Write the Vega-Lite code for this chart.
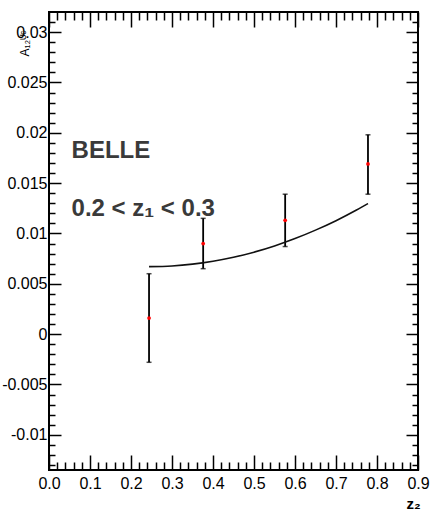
{
  "$schema": "https://vega.github.io/schema/vega-lite/v6.json",
  "width": 369,
  "height": 458,
  "autosize": {"type": "none"},
  "padding": {"left": 49, "top": 12, "right": 16, "bottom": 42},
  "background": "white",
  "config": {
    "view": {"stroke": "black", "strokeWidth": 2},
    "font": "Liberation Sans",
    "axis": {"grid": false, "domain": false, "tickColor": "black", "tickWidth": 1.5, "labelColor": "black", "titleColor": "black", "labelFont": "Liberation Sans", "titleFont": "Liberation Sans"}
  },
  "datasets": {
    "pts": [
      {"z": 0.244, "a": 0.0016, "lo": -0.0028, "hi": 0.0060},
      {"z": 0.376, "a": 0.0090, "lo": 0.0065, "hi": 0.0115},
      {"z": 0.576, "a": 0.0113, "lo": 0.0087, "hi": 0.0139},
      {"z": 0.778, "a": 0.0169, "lo": 0.0139, "hi": 0.0198}
    ],
    "curve": [
      {"z": 0.244, "a": 0.0067},
      {"z": 0.30, "a": 0.00677},
      {"z": 0.35, "a": 0.00695},
      {"z": 0.40, "a": 0.00724},
      {"z": 0.45, "a": 0.00763},
      {"z": 0.50, "a": 0.00814},
      {"z": 0.55, "a": 0.00876},
      {"z": 0.60, "a": 0.00949},
      {"z": 0.65, "a": 0.01033},
      {"z": 0.70, "a": 0.01127},
      {"z": 0.75, "a": 0.01233},
      {"z": 0.778, "a": 0.01297}
    ],
    "labels": [{"one": 1}]
  },
  "resolve": {"axis": {"x": "independent", "y": "independent"}},
  "layer": [
    {
      "data": {"name": "pts"},
      "mark": {"type": "rule", "color": "black", "strokeWidth": 1.8},
      "encoding": {
        "x": {"field": "z", "type": "quantitative", "scale": {"domain": [0, 0.9], "nice": false, "zero": false},
              "axis": {"orient": "bottom", "values": [0,0.1,0.2,0.3,0.4,0.5,0.6,0.7,0.8,0.9], "labels": false, "title": null, "offset": -15, "tickSize": 15}},
        "y": {"field": "lo", "type": "quantitative", "scale": {"domain": [-0.0135, 0.032], "nice": false, "zero": false},
              "axis": {"orient": "left", "values": [-0.01,-0.005,0,0.005,0.01,0.015,0.02,0.025,0.03], "labels": false, "title": null, "offset": -12, "tickSize": 12}},
        "y2": {"field": "hi"}
      }
    },
    {
      "data": {"name": "pts"},
      "mark": {"type": "tick", "orient": "horizontal", "color": "black", "size": 5, "thickness": 1.5},
      "encoding": {
        "x": {"field": "z", "type": "quantitative", "scale": {"domain": [0, 0.9], "nice": false, "zero": false},
              "axis": {"orient": "bottom", "values": [0.02,0.04,0.06,0.08,0.12,0.14,0.16,0.18,0.22,0.24,0.26,0.28,0.32,0.34,0.36,0.38,0.42,0.44,0.46,0.48,0.52,0.54,0.56,0.58,0.62,0.64,0.66,0.68,0.72,0.74,0.76,0.78,0.82,0.84,0.86,0.88], "labels": false, "title": null, "offset": -8, "tickSize": 8}},
        "y": {"field": "lo", "type": "quantitative", "scale": {"domain": [-0.0135, 0.032], "nice": false, "zero": false},
              "axis": {"orient": "left", "values": [-0.013,-0.012,-0.011,-0.009,-0.008,-0.007,-0.006,-0.004,-0.003,-0.002,-0.001,0.001,0.002,0.003,0.004,0.006,0.007,0.008,0.009,0.011,0.012,0.013,0.014,0.016,0.017,0.018,0.019,0.021,0.022,0.023,0.024,0.026,0.027,0.028,0.029,0.031], "labels": false, "title": null, "offset": -6, "tickSize": 6}}
      }
    },
    {
      "data": {"name": "pts"},
      "mark": {"type": "tick", "orient": "horizontal", "color": "black", "size": 5, "thickness": 1.5},
      "encoding": {
        "x": {"field": "z", "type": "quantitative", "scale": {"domain": [0, 0.9], "nice": false, "zero": false},
              "axis": {"orient": "top", "values": [0,0.1,0.2,0.3,0.4,0.5,0.6,0.7,0.8,0.9], "labels": false, "title": null, "offset": -15, "tickSize": 15}},
        "y": {"field": "hi", "type": "quantitative", "scale": {"domain": [-0.0135, 0.032], "nice": false, "zero": false},
              "axis": {"orient": "right", "values": [-0.01,-0.005,0,0.005,0.01,0.015,0.02,0.025,0.03], "labels": false, "title": null, "offset": -12, "tickSize": 12}}
      }
    },
    {
      "data": {"name": "curve"},
      "mark": {"type": "line", "color": "#111111", "strokeWidth": 1.6, "interpolate": "monotone"},
      "encoding": {
        "x": {"field": "z", "type": "quantitative", "scale": {"domain": [0, 0.9], "nice": false, "zero": false},
              "axis": {"orient": "top", "values": [0.02,0.04,0.06,0.08,0.12,0.14,0.16,0.18,0.22,0.24,0.26,0.28,0.32,0.34,0.36,0.38,0.42,0.44,0.46,0.48,0.52,0.54,0.56,0.58,0.62,0.64,0.66,0.68,0.72,0.74,0.76,0.78,0.82,0.84,0.86,0.88], "labels": false, "title": null, "offset": -8, "tickSize": 8}},
        "y": {"field": "a", "type": "quantitative", "scale": {"domain": [-0.0135, 0.032], "nice": false, "zero": false},
              "axis": {"orient": "right", "values": [-0.013,-0.012,-0.011,-0.009,-0.008,-0.007,-0.006,-0.004,-0.003,-0.002,-0.001,0.001,0.002,0.003,0.004,0.006,0.007,0.008,0.009,0.011,0.012,0.013,0.014,0.016,0.017,0.018,0.019,0.021,0.022,0.023,0.024,0.026,0.027,0.028,0.029,0.031], "labels": false, "title": null, "offset": -6, "tickSize": 6}}
      }
    },
    {
      "data": {"name": "pts"},
      "mark": {"type": "point", "filled": true, "color": "#ff0000", "size": 14, "opacity": 1},
      "encoding": {
        "x": {"field": "z", "type": "quantitative", "scale": {"domain": [0, 0.9], "nice": false, "zero": false},
              "axis": {"orient": "bottom", "values": [0,0.1,0.2,0.3,0.4,0.5,0.6,0.7,0.8,0.9], "ticks": false, "labelPadding": 5, "labelFontSize": 16, "labelFlush": false, "labelOverlap": false,
                       "title": "z₂", "titleFontSize": 15, "titleFontWeight": "bold", "titleX": 364, "titleY": 33, "titleAlign": "center", "titleBaseline": "middle"}},
        "y": {"field": "a", "type": "quantitative", "scale": {"domain": [-0.0135, 0.032], "nice": false, "zero": false},
              "axis": {"orient": "left", "values": [-0.01,-0.005,0,0.005,0.01,0.015,0.02,0.025,0.03], "ticks": false, "labelPadding": 2, "labelFontSize": 16, "labelFlush": false, "labelOverlap": false,
                       "labelExpr": "'' + datum.value",
                       "title": "A₁₂ᵁᶜ", "titleFontSize": 12, "titleFontWeight": "normal", "titleAngle": -90, "titleX": -25, "titleY": 44, "titleAlign": "left", "titleBaseline": "middle"}}
      }
    },
    {
      "data": {"name": "labels"},
      "mark": {"type": "text", "text": "BELLE", "align": "left", "baseline": "middle", "fontSize": 24, "fontWeight": "bold", "color": "#3a3a3a", "font": "Liberation Sans"},
      "encoding": {
        "x": {"datum": 0.055, "type": "quantitative", "scale": {"domain": [0, 0.9], "nice": false, "zero": false}, "axis": null},
        "y": {"datum": 0.0182, "type": "quantitative", "scale": {"domain": [-0.0135, 0.032], "nice": false, "zero": false}, "axis": null}
      }
    },
    {
      "data": {"name": "labels"},
      "mark": {"type": "text", "text": "0.2 < z₁ < 0.3", "align": "left", "baseline": "middle", "fontSize": 24, "fontWeight": "bold", "color": "#3a3a3a", "font": "Liberation Sans"},
      "encoding": {
        "x": {"datum": 0.055, "type": "quantitative", "scale": {"domain": [0, 0.9], "nice": false, "zero": false}, "axis": null},
        "y": {"datum": 0.0124, "type": "quantitative", "scale": {"domain": [-0.0135, 0.032], "nice": false, "zero": false}, "axis": null}
      }
    }
  ]
}
